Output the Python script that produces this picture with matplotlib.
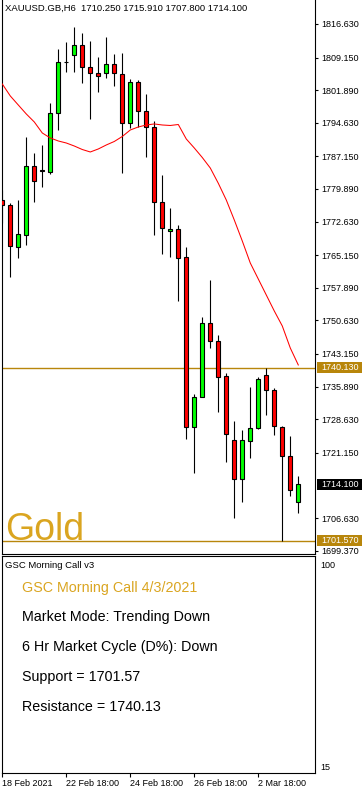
import matplotlib
matplotlib.use('Agg')
import matplotlib.pyplot as plt
from matplotlib.patches import Rectangle
import matplotlib.transforms as mtransforms

plt.rcParams['font.family'] = ['Liberation Sans', 'DejaVu Sans']

# ---------------- data ----------------
opens = [1777.44, 1776.33, 1766.97, 1769.65, 1785.01, 1784.20, 1783.67, 1796.81, 1808.17, 1809.73,
         1811.95, 1807.06, 1805.72, 1805.72, 1807.72, 1805.50, 1794.59, 1803.71, 1797.26, 1793.70,
         1776.99, 1770.54, 1770.98, 1764.75, 1726.89, 1733.58, 1750.05, 1746.04, 1738.25, 1723.99,
         1715.31, 1723.77, 1726.67, 1738.47, 1735.13, 1726.89, 1720.44, 1710.25]
highs = [1779.67, 1776.77, 1777.44, 1791.47, 1787.91, 1789.69, 1799.04, 1811.06, 1812.62, 1815.96,
         1814.63, 1812.84, 1809.28, 1813.74, 1809.95, 1810.17, 1804.38, 1804.16, 1801.04, 1795.03,
         1783.01, 1775.66, 1771.87, 1766.97, 1734.24, 1751.39, 1759.63, 1747.38, 1738.92, 1728.23,
         1726.22, 1735.80, 1738.03, 1740.03, 1735.58, 1727.12, 1724.89, 1715.91]
lows = [1772.32, 1760.30, 1764.53, 1767.42, 1776.99, 1780.34, 1783.23, 1793.03, 1805.94, 1805.94,
        1803.49, 1795.48, 1801.49, 1804.61, 1802.82, 1783.45, 1793.47, 1793.70, 1787.01, 1769.65,
        1765.41, 1764.75, 1754.95, 1724.22, 1716.65, 1733.58, 1744.49, 1730.23, 1719.10, 1706.63,
        1710.19, 1719.99, 1726.45, 1729.57, 1725.11, 1701.51, 1711.53, 1707.80]
closes = [1776.33, 1767.20, 1769.87, 1785.01, 1781.67, 1784.00, 1796.81, 1808.17, 1808.10, 1811.95,
          1807.06, 1805.72, 1805.05, 1807.72, 1805.72, 1794.59, 1803.71, 1797.26, 1793.70, 1776.99,
          1771.20, 1770.98, 1764.53, 1726.89, 1733.58, 1750.05, 1746.04, 1738.03, 1725.33, 1715.31,
          1723.99, 1726.67, 1737.58, 1735.13, 1727.12, 1720.44, 1712.87, 1714.10]
ma = [1803.27, 1800.60, 1798.59, 1796.59, 1794.81, 1792.36, 1791.25, 1790.58, 1790.13, 1789.46,
      1788.68, 1788.13, 1788.80, 1789.69, 1790.47, 1791.58, 1793.03, 1793.70, 1794.14, 1794.37,
      1794.14, 1794.03, 1794.25, 1791.02, 1789.02, 1786.90, 1784.56, 1781.17, 1777.44, 1772.99,
      1768.31, 1763.41, 1759.85, 1756.29, 1752.73, 1749.39, 1744.49, 1740.71]

price_ticks = [1816.630, 1809.150, 1801.890, 1794.630, 1787.150, 1779.890, 1772.630, 1765.150,
               1757.890, 1750.630, 1743.150, 1735.890, 1728.630, 1721.150, 1706.630, 1699.370]
support = 1701.57
resistance = 1740.13
last_price = 1714.10
x_tick_idx = [0, 8, 16, 24, 32]
x_tick_labels = ['18 Feb 2021', '22 Feb 18:00', '24 Feb 18:00', '26 Feb 18:00', '2 Mar 18:00']
sub_ticks = [15, 100]
header = 'XAUUSD.GB,H6  1710.250 1715.910 1707.800 1714.100'
sub_name = 'GSC Morning Call v3'
info_title = 'GSC Morning Call 4/3/2021'
info_lines = ['Market Mode: Trending Down', '6 Hr Market Cycle (D%): Down',
              'Support = 1701.57', 'Resistance = 1740.13']

# ---------------- layout ----------------
W, H = 362, 788
fig = plt.figure(figsize=(W / 100, H / 100), dpi=100)
fig.patch.set_facecolor('white')


def fx(x):
    return x / W


def fy(y):
    return 1 - y / H


GOLD = '#DAA520'
DGOLD = '#B8860B'
GREEN = '#00FF00'
RED = '#FF0000'

ax = fig.add_axes([fx(1.5), fy(553.5), fx(315) - fx(1.5), fy(0) - fy(553.5)])
ax2 = fig.add_axes([fx(1.5), fy(773), fx(315) - fx(1.5), fy(556) - fy(773)])

xs = list(range(len(opens)))
xlim = (-0.1, 39.09)

# candles
ax.vlines(xs, lows, highs, color='black', linewidth=0.8, zorder=2)
body_bottom = [min(o, c) for o, c in zip(opens, closes)]
body_h = [max(abs(c - o), 0.08) for o, c in zip(opens, closes)]
body_col = [GREEN if c >= o else RED for o, c in zip(opens, closes)]
ax.bar(xs, body_h, bottom=body_bottom, width=0.55, color=body_col,
       edgecolor='black', linewidth=0.8, zorder=3)

# moving average
ax.plot(xs, ma, color=RED, linewidth=0.75, zorder=4)

# support / resistance
ax.axhline(resistance, color=DGOLD, linewidth=1.0, zorder=1)
ax.axhline(support, color=DGOLD, linewidth=1.0, zorder=1)

ax.set_xlim(*xlim)
ax.set_ylim(1698.73, 1821.97)
ax.set_xticks([])
ax.yaxis.tick_right()
ax.set_yticks(price_ticks)
ax.set_yticklabels([f'{v:.3f}' for v in price_ticks])
ax.tick_params(axis='y', direction='out', length=2.2, width=0.8, pad=2.5,
               labelsize=6.5, colors='black')
for side in ['left', 'right', 'bottom']:
    ax.spines[side].set_linewidth(0.8)
    ax.spines[side].set_color('black')
ax.spines['top'].set_visible(False)

# price boxes on the axis
trans = mtransforms.blended_transform_factory(ax.transAxes, ax.transData)
px_per_unit = (553.5 - 0) / (1821.97 - 1698.73)
box_h = 11 / px_per_unit
x0 = (316.7 - 1.5) / (315 - 1.5)
x1 = (362 - 1.5) / (315 - 1.5)
xt = (321.5 - 1.5) / (315 - 1.5)
for val, col in [(resistance, DGOLD), (last_price, 'black'), (support, DGOLD)]:
    r = Rectangle((x0, val - box_h / 2), x1 - x0, box_h, transform=trans,
                  facecolor=col, edgecolor='none', clip_on=False, zorder=5)
    ax.add_patch(r)
    ax.text(xt, val, f'{val:.3f}', transform=trans, color='white', fontsize=6.5,
            va='center', ha='left', clip_on=False, zorder=6)

# sub window
ax2.set_xlim(*xlim)
ax2.set_ylim(12.04, 103.8)
ax2.yaxis.tick_right()
ax2.set_yticks(sub_ticks)
ax2.set_yticklabels([str(v) for v in sub_ticks])
ax2.tick_params(axis='y', length=0, pad=4, labelsize=6.5)
ax2.set_xticks(x_tick_idx)
ax2.set_xticklabels(x_tick_labels)
ax2.tick_params(axis='x', direction='out', length=3, width=0.8, pad=1.5, labelsize=6.5)
for lab in ax2.get_xticklabels():
    lab.set_ha('left')
for side in ['left', 'right', 'bottom', 'top']:
    ax2.spines[side].set_linewidth(0.8)
    ax2.spines[side].set_color('black')

# texts
fig.text(fx(5), fy(11), header, fontsize=6.8, color='black', va='baseline', ha='left')
fig.text(fx(5), fy(540), 'Gold', fontsize=27, color=GOLD, va='baseline', ha='left')
fig.text(fx(5), fy(568.5), sub_name, fontsize=6.8, color='black', va='baseline', ha='left')
fig.text(fx(22), fy(592), info_title, fontsize=10.3, color=GOLD, va='baseline', ha='left')
for k, line in enumerate(info_lines):
    fig.text(fx(22), fy(621 + 30 * k), line, fontsize=10.3, color='black',
             va='baseline', ha='left')

fig.savefig('out.png', dpi=100)
